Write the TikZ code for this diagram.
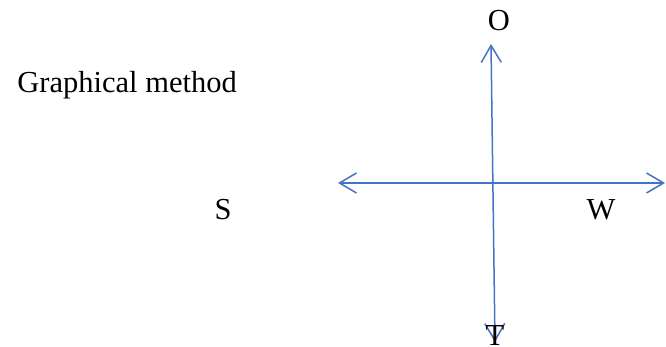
\documentclass[tikz,border=0pt]{standalone}
\usepackage{fontspec}
\setmainfont{Liberation Serif}
\usetikzlibrary{arrows.meta}
\definecolor{axisblue}{HTML}{4472C4}
\begin{document}
\begin{tikzpicture}[x=1pt, y=-1pt,
    axis/.style={axisblue, line width=1.5pt, {Straight Barb[length=17pt, width=20pt]}-{Straight Barb[length=17pt, width=20pt]}},
    label/.style={inner sep=0pt, font=\fontsize{30.5}{36}\selectfont}]
    % 画布
    \useasboundingbox (0,0) rectangle (666,347);

    % 标题
    \node[label, anchor=base east] (title) at (237,93) {Graphical method};

    % 坐标轴端点
    \coordinate (north) at (491,44);
    \coordinate (south) at (495,342);
    \coordinate (west) at (338,183);
    \coordinate (east) at (665,183);

    % 坐标轴
    \draw[axis] (south) -- (north);
    \draw[axis] (west) -- (east);

    % 方向
    \node[label, anchor=base] (O) at (499,31) {O};
    \node[label, anchor=base] (S) at (223,220) {S};
    \node[label, anchor=base] (W) at (601,220) {W};
    \node[label, anchor=base] (T) at (495,345) {T};
  \end{tikzpicture}
\end{document}
